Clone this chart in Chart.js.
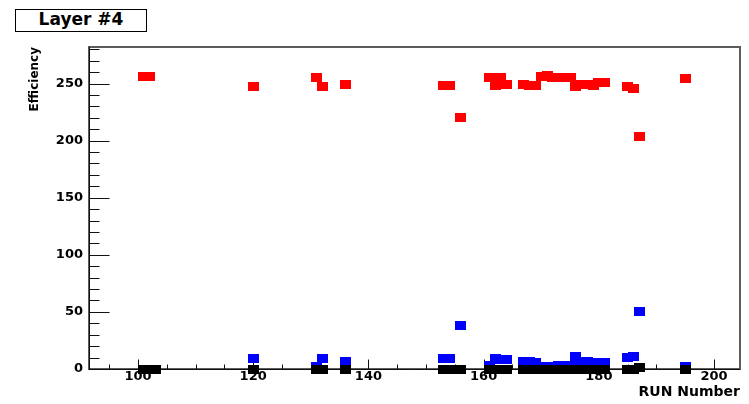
<!DOCTYPE html>
<html>
<head>
<meta charset="utf-8">
<script src="https://cdn.jsdelivr.net/npm/chart.js@4.4.1/dist/chart.umd.min.js"></script>
<style>
  html, body { margin: 0; padding: 0; background: #fff; }
  #wrap { position: relative; width: 749px; height: 404px; }
  #layerTitle {
    position: absolute; left: 15px; top: 9px; width: 132px; height: 23px;
    box-sizing: border-box; border: 1.5px solid #000; background: #fff;
    font: bold 17px "DejaVu Sans"; line-height: 18px; text-align: center; color: #000;
  }
</style>
</head>
<body>
<div id="wrap">
  <canvas id="chart" width="749" height="404"></canvas>
  <div id="layerTitle">Layer #4</div>
</div>
<script>
// run numbers and the three efficiency series (null = no point)
const runs = [101, 102, 103, 120, 131, 132, 136, 153, 154, 155, 156,
  161, 162, 163, 164, 167, 168, 169, 170, 171, 172, 173, 174, 175,
  176, 177, 178, 179, 180, 181, 185, 186, 187, 195];
const effRed = [256, 256, null, 247, 255, 247, 249, 248, 248, null, 220,
  255.5, 248, 255, 249, 249, 248, 248, 256, 257, 255.5, 255.5, 255.5, 255.5,
  247, 249.5, 249, 248.5, 251, 251, 247.5, 246, 204, 254.5];
const effBlue = [0, 0, 0, 9.5, 2, 9.5, 7, 9, 9, 0, 38,
  3, 9, 8, 8, 7, 7, 6, 2, 2, 2.5, 3, 3, 3,
  11, 7, 7, 6, 6, 6, 10, 11, 50, 2.5];
const effBlack = [0, 0, 0, 0, 0, 0, 0, 0, 0, 0, 0,
  0, 0, 0, 0, 0, 0, 0, 0, 0, 0, 0, 0, 0,
  0, 0, 0, 0, 0, 0, 0, 0, 1.5, 0];

const xTicks = [100, 120, 140, 160, 180, 200];
const yTicks = [0, 50, 100, 150, 200, 250];
const xRange = [91.5, 204.5];
const yRange = [0, 282];

function points(vals) {
  return runs.map((r, i) => ({ x: r, y: vals[i] })).filter(p => p.y !== null);
}

// ROOT-like filled rectangle marker
function marker(color) {
  const c = document.createElement('canvas');
  c.width = 11; c.height = 9;
  const g = c.getContext('2d');
  g.fillStyle = color;
  g.fillRect(0, 0, 11, 9);
  return c;
}

// frame + inside ticks, ROOT style
const rootAxes = {
  id: 'rootAxes',
  beforeDatasetsDraw(chart) {
    const { ctx, chartArea: a, scales: { x, y } } = chart;
    const line = (x1, y1, x2, y2) => { ctx.beginPath(); ctx.moveTo(x1, y1); ctx.lineTo(x2, y2); ctx.stroke(); };
    ctx.save();
    ctx.strokeStyle = '#5c5c5c';
    ctx.lineWidth = 2;
    ctx.strokeRect(a.left, a.top, a.right - a.left, a.bottom - a.top);

    ctx.strokeStyle = '#111';
    ctx.lineWidth = 1;
    const L = Math.round(a.left) + 0.5, B = Math.round(a.bottom) + 0.5;
    line(L, a.top, L, B);
    line(a.left, B, a.right, B);

    for (let v = 0; v <= y.max; v += 10) {
      const py = Math.round(y.getPixelForValue(v)) + 0.5;
      line(L, py, L + (v % 50 === 0 ? 20 : 10), py);
    }
    for (let v = Math.ceil(x.min / 5) * 5; v <= x.max; v += 5) {
      const px = Math.round(x.getPixelForValue(v)) + 0.5;
      line(px, B, px, B - (v % 20 === 0 ? 10 : 5));
    }
    ctx.restore();
  }
};

const tickFont = { family: 'DejaVu Sans', weight: 'bold', size: 13 };
const dot = { pointRadius: 5, pointHoverRadius: 5, clip: false };

new Chart(document.getElementById('chart'), {
  type: 'scatter',
  data: {
    datasets: [
      { label: 'black', data: points(effBlack), pointStyle: marker('#000000'), ...dot },
      { label: 'blue', data: points(effBlue), pointStyle: marker('#0000ff'), ...dot },
      { label: 'red', data: points(effRed), pointStyle: marker('#ff0000'), ...dot }
    ]
  },
  options: {
    responsive: false,
    animation: false,
    events: [],
    layout: { padding: { left: 0, top: 47, right: 9, bottom: 0 } },
    plugins: { legend: { display: false }, tooltip: { enabled: false } },
    scales: {
      x: {
        type: 'linear', position: 'bottom',
        min: xRange[0], max: xRange[1],
        afterBuildTicks: s => { s.ticks = xTicks.map(v => ({ value: v })); },
        afterFit: s => { s.height = 35; },
        grid: { display: false, drawTicks: false },
        border: { display: false },
        ticks: { font: tickFont, color: '#000', padding: 0, maxRotation: 0, autoSkip: false },
        title: {
          display: true, text: 'RUN Number', align: 'end', color: '#000',
          font: { family: 'DejaVu Sans', weight: 'bold', size: 14 },
          padding: { top: 0, bottom: 3 }
        }
      },
      y: {
        type: 'linear', position: 'left',
        min: yRange[0], max: yRange[1],
        afterBuildTicks: s => { s.ticks = yTicks.map(v => ({ value: v })); },
        afterFit: s => { s.width = 89; },
        grid: { display: false, drawTicks: false },
        border: { display: false },
        ticks: { font: tickFont, color: '#000', padding: 6, autoSkip: false },
        title: {
          display: true, text: 'Efficiency', align: 'end', color: '#000',
          font: { family: 'DejaVu Sans', weight: 'bold', size: 12 },
          padding: { top: 28, bottom: 0 }
        }
      }
    }
  },
  plugins: [rootAxes]
});
</script>
</body>
</html>
